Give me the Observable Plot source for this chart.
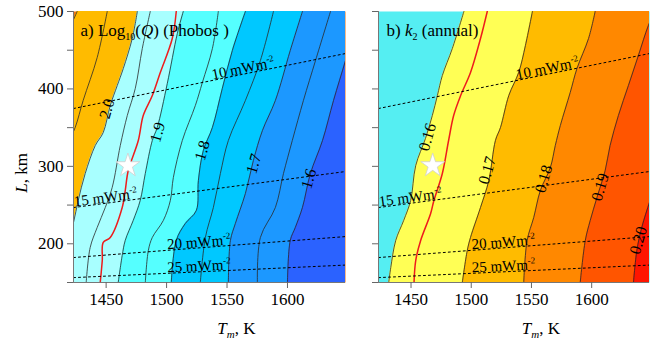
<!DOCTYPE html>
<html><head><meta charset="utf-8">
<script src="https://cdn.jsdelivr.net/npm/d3@7"></script>
<script src="https://cdn.jsdelivr.net/npm/@observablehq/plot@0.6"></script>
<style>
body{margin:0;background:#fff;}
#wrap{display:flex;width:650px;height:339px;overflow:hidden;}
svg, svg text, svg tspan { font-family: "Liberation Serif", "DejaVu Serif", serif !important; }
</style></head><body><div id="wrap"></div>
<script>
// ---- axes ----
const tDomain = [1423, 1648];
const lDomain = [150, 500];
const xTicks = [1450, 1500, 1550, 1600];
const yTicks = [150, 200, 250, 300, 350, 400, 450, 500];

// ---- heat-flow isolines (L at Tmin and Tmax) ----
const hfLevels = [10, 15, 20, 25];
const hfLAtTmin = [374.7, 246.8, 182.2, 156.3];
const hfLAtTmax = [445.7, 293.3, 209.3, 172.5];
const hfLabelT = [1564, 1450, 1527, 1527];

// ---- star (reference point) ----
const starPoint = [1468, 301];

// ---- panel a: log10(Q) contours, [Tm, L] ----
const q2_10 = [[1426,500],[1420,480],[1410,455],[1385,400],[1380,150]];
const q2_05 = [[1450.9,500],[1442.6,440.6],[1431,385.1],[1424.4,350.2],[1416,320],[1408,288],[1395,150]];
const q2_00 = [[1475.8,500],[1471.6,465.1],[1464.2,426.4],[1459.2,404.4],[1453.4,378.6],[1447.6,343.7],[1441,326.9],[1432.7,290.8],[1426.9,255.9],[1423,227.5],[1416,191],[1408,150]];
const q1_95 = [[1486.5,500],[1479.9,452.2],[1474.1,400.6],[1467.5,365.7],[1461.7,326.9],[1455,272.7],[1449.3,246.9],[1442.6,221.1],[1436.8,195.2],[1433.5,150]];
const qRed  = [[1508,500],[1504.7,465.1],[1494.8,421.2],[1488.2,391.5],[1480.7,365.7],[1476.6,333.4],[1468.3,294.6],[1465.8,268.8],[1463.3,246.9],[1453.4,208.2],[1447.6,201.7],[1446.8,178.4],[1445.1,150]];
const q1_90 = [[1513.8,500],[1508.9,471.6],[1500.6,407],[1492.3,350.2],[1488.2,333.4],[1482.4,290.8],[1478.2,255.9],[1472.4,230.1],[1465.8,204.3],[1463.3,184.9],[1460,150]];
const q1_85 = [[1542.8,500],[1537.9,452.2],[1529.6,408.3],[1523.8,378.6],[1513,333.4],[1505.6,285.6],[1503.1,255.9],[1497.3,230.1],[1488.2,208.2],[1484.9,191.3],[1482.4,150]];
const q1_80 = [[1565.2,500],[1554.4,449.6],[1546.1,400.6],[1537.9,350.2],[1530.4,320.5],[1526.3,281.7],[1524.6,243],[1515.5,226.2],[1508,204.3],[1503.9,150]];
const q1_75 = [[1588.4,500],[1577.6,436.7],[1565.2,385.1],[1551.1,333.4],[1544.5,290.8],[1538.7,246.9],[1532.1,208.2],[1527.9,150]];
const q1_70 = [[1612.4,500],[1602.3,449.6],[1590,385.1],[1579.3,346.3],[1571.8,307.6],[1565.2,264.9],[1556.9,226.2],[1552.8,204.3],[1551.1,150]];
const q1_65 = [[1635.6,500],[1623.2,436.7],[1613.2,385.1],[1604,333.4],[1596.7,290.8],[1590,246.9],[1577.6,208.2],[1575.1,150]];
const q1_60 = [[1659.6,500],[1648,436.7],[1638.1,385.1],[1629,333.4],[1619,290.8],[1612.4,246.9],[1606.5,221.1],[1602.3,204.3],[1600,150]];
const qBandColors = ["#f07512", "#ffbb00", "#a8ffff", "#55ffff", "#00c8ff", "#1c98ff", "#2b62ff"];
const qLabelText = ["2.0", "1.9", "1.8", "1.7", "1.6"];
const qLabelT = [1450.7, 1492.6, 1529.6, 1572.1, 1617.6];
const qLabelL = [374.3, 344.1, 320.5, 303.3, 283.9];

// ---- panel b: k2 contours, [Tm, L] ----
const k0_16 = [[1493.9,500],[1484.3,452.2],[1476,417.3],[1471.9,391.5],[1467.7,365.7],[1462,336],[1453.9,301],[1449.7,255.9],[1443.9,230.1],[1437.3,204.3],[1433.2,169.4],[1431.5,150]];
const kRed  = [[1513.3,500],[1507.7,465.1],[1499.4,421.2],[1491.2,391.5],[1485.4,365.7],[1481.2,333.4],[1476,290.8],[1469,255.9],[1466.3,239.1],[1458,204.3],[1453.9,178.4],[1452.5,150]];
const k0_17 = [[1550.8,500],[1545,456.1],[1539.4,421.2],[1531.2,391.5],[1524.3,350.2],[1520.1,333.4],[1514.6,281.7],[1507.7,246.9],[1499.4,208.2],[1496.7,191.3],[1492.6,150]];
const k0_18 = [[1602.9,500],[1597.4,465.1],[1587.8,426.4],[1582.2,395.4],[1574,352.8],[1569.8,326.9],[1565.7,298.5],[1557.4,268.8],[1551.9,234],[1546.4,204.3],[1543.6,150]];
const k0_19 = [[1652.6,500],[1647.1,481.9],[1638.8,443.2],[1630.5,404.4],[1622.2,365.7],[1615.3,326.9],[1611.2,294.6],[1604.4,259.8],[1598.8,230.1],[1594.7,204.3],[1590.5,150]];
const k0_20 = [[1665,333.4],[1656.8,294.6],[1648.5,255.9],[1641.6,221.1],[1637.5,191.3],[1634.7,150]];
const kBandColors = ["#55eef2", "#ffff55", "#ffbb00", "#ff8800", "#ff5500", "#ff1500"];
const kLabelText = ["0.16", "0.17", "0.18", "0.19", "0.20"];
const kLabelT = [1463.6, 1513.3, 1560.1, 1607.1, 1638.8];
const kLabelL = [337.7, 294.7, 283.9, 273.1, 204.3];

const H = 339, MT = 11, MB = 57;
const serif = "Liberation Serif, serif";

function makePanel(o) {
  const fw = o.width - o.marginLeft - o.marginRight;
  const fh = H - MT - MB;
  const X = d => d[0], Y = d => d[1];
  const marks = [];
  marks.push(Plot.frame({fill: o.colors[0], stroke: null}));
  o.bounds.forEach((pts, i) => {
    marks.push(Plot.areaX(pts, {y: Y, x1: X, x2: () => 1720, fill: o.colors[i + 1], curve: "catmull-rom", clip: true}));
  });
  o.lines.forEach(pts => {
    marks.push(Plot.line(pts, {x: X, y: Y, stroke: "#2a2a2a", strokeWidth: 0.8, curve: "catmull-rom", clip: true}));
  });
  marks.push(Plot.line(o.red, {x: X, y: Y, stroke: "#ee1c1c", strokeWidth: 1.5, curve: "catmull-rom", clip: true}));
  hfLevels.forEach((q, i) => {
    marks.push(Plot.line([[tDomain[0], hfLAtTmin[i]], [tDomain[1], hfLAtTmax[i]]],
      {x: X, y: Y, stroke: "#000", strokeWidth: 1, strokeDasharray: "2,3", clip: true}));
  });
  hfLevels.forEach((q, i) => {
    const Lp = hfLAtTmin[i] + (hfLabelT[i] - tDomain[0]) / (tDomain[1] - tDomain[0]) * (hfLAtTmax[i] - hfLAtTmin[i]);
    const ang = Math.atan2(-(hfLAtTmax[i] - hfLAtTmin[i]) / (lDomain[1] - lDomain[0]) * fh, fw) * 180 / Math.PI;
    marks.push(Plot.text([q], {x: () => hfLabelT[i], y: () => Lp, text: d => `${d} mWm`, rotate: ang,
      lineAnchor: "bottom", dy: -1, fontSize: 15, fill: "#000", className: "hf"}));
  });
  marks.push(Plot.text(o.labelText.map((_, i) => i), {x: i => o.labelT[i], y: i => o.labelL[i], text: i => o.labelText[i],
    rotate: -74, fontSize: 16, fill: "#000"}));
  marks.push(Plot.dot([starPoint], {x: X, y: Y, symbol: "star", r: 7.5, fill: "#fff", stroke: "#cfcfcf", strokeWidth: 0.8}));
  marks.push(Plot.ruleX([tDomain[0]], {stroke: "#777", strokeWidth: 1}));
  marks.push(Plot.ruleY([lDomain[0]], {stroke: "#777", strokeWidth: 1}));
  marks.push(Plot.axisX({ticks: xTicks, tickSize: 6, tickPadding: 4, label: null, stroke: "#666", fill: "#000", fontSize: 17, tickFormat: "d"}));
  marks.push(Plot.axisY({ticks: yTicks, tickSize: 6, tickPadding: 4, label: null, stroke: "#666", fill: "#000", fontSize: 17,
    tickFormat: o.yLabels ? (d => d % 100 === 0 ? String(d) : "") : (() => "")}));
  marks.push(Plot.text([0], {frameAnchor: "top-left", dx: o.titleDx, dy: 12, lineAnchor: "top", textAnchor: "start",
    text: () => "t", fontSize: 17, fill: "#000", className: "ttl"}));
  marks.push(Plot.text([0], {x: () => 1542, frameAnchor: "bottom", dy: 51, lineAnchor: "bottom", textAnchor: "start",
    text: () => "x", fontSize: 17, fill: "#000", className: "xl"}));
  if (o.yLabels) {
    marks.push(Plot.text([0], {y: () => 266, frameAnchor: "left", dx: -47, lineAnchor: "bottom", textAnchor: "start", rotate: -90,
      text: () => "y", fontSize: 17, fill: "#000", className: "yl"}));
  }
  const svg = Plot.plot({
    width: o.width, height: H,
    marginLeft: o.marginLeft, marginRight: o.marginRight, marginTop: MT, marginBottom: MB,
    x: {domain: tDomain}, y: {domain: lDomain},
    style: {fontFamily: serif, fontSize: "17px", background: "#fff", color: "#000"},
    marks
  });
  const s = d3.select(svg);
  s.selectAll("g.hf text").append("tspan").attr("dy", "-6").attr("font-size", "9").text("-2");
  s.select("g.ttl text").html(o.titleHtml);
  s.select("g.xl text").html('<tspan font-style="italic">T</tspan><tspan dy="4" font-size="11" font-style="italic">m</tspan><tspan dy="-4">, K</tspan>');
  s.select("g.yl text").html('<tspan font-style="italic">L</tspan>, km');
  return svg;
}

const wrap = document.getElementById("wrap");
wrap.appendChild(makePanel({
  width: 350, marginLeft: 73, marginRight: 5, yLabels: true, titleDx: 7,
  colors: qBandColors,
  bounds: [q2_10, q2_00, q1_90, q1_80, q1_70, q1_60],
  lines: [q2_10, q2_05, q2_00, q1_95, q1_90, q1_85, q1_80, q1_75, q1_70, q1_65, q1_60],
  red: qRed, labelText: qLabelText, labelT: qLabelT, labelL: qLabelL,
  titleHtml: 'a) Log<tspan dy="4" font-size="10">10</tspan><tspan dy="-4">(</tspan><tspan font-style="italic">Q</tspan>) (Phobos )'
}));
wrap.appendChild(makePanel({
  width: 300, marginLeft: 28, marginRight: 1, yLabels: false, titleDx: 8,
  colors: kBandColors,
  bounds: [k0_16, k0_17, k0_18, k0_19, k0_20],
  lines: [k0_16, k0_17, k0_18, k0_19, k0_20],
  red: kRed, labelText: kLabelText, labelT: kLabelT, labelL: kLabelL,
  titleHtml: 'b) <tspan font-style="italic">k</tspan><tspan dy="4" font-size="10">2</tspan><tspan dy="-4"> (annual)</tspan>'
}));
</script>
</body></html>
